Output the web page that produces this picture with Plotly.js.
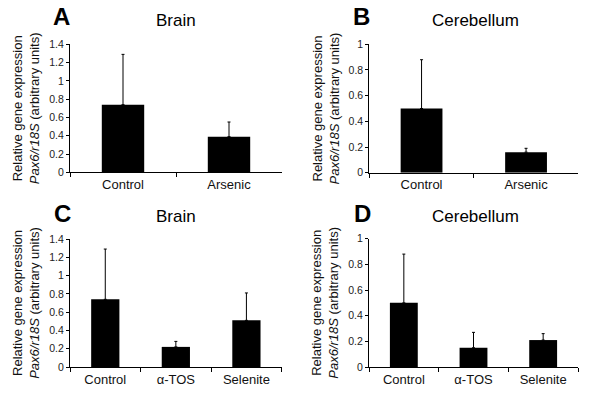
<!DOCTYPE html>
<html>
<head>
<meta charset="utf-8">
<script src="https://cdn.plot.ly/plotly-3.0.1.min.js"></script>
<style>html,body{margin:0;padding:0;background:#fff;}#chart{width:600px;height:394px;}</style>
</head>
<body>
<div id="chart"></div>
<script>
// Data
const catsArsenic = ["Control", "Arsenic"];
const catsTreat = ["Control", "α-TOS", "Selenite"];

const brainArsenicMean = [0.74, 0.39];
const brainArsenicErr = [0.55, 0.16];

const cerebArsenicMean = [0.50, 0.16];
const cerebArsenicErr = [0.38, 0.03];

const brainTreatMean = [0.74, 0.22, 0.51];
const brainTreatErr = [0.55, 0.06, 0.30];

const cerebTreatMean = [0.50, 0.15, 0.21];
const cerebTreatErr = [0.38, 0.12, 0.05];

const panelLetters = ["A", "B", "C", "D"];
const panelTitles = ["Brain", "Cerebellum", "Brain", "Cerebellum"];
const yTitle = "Relative gene expression<br><i>Pax6/r18S</i> (arbitrary units)";

const FONT = "Liberation Sans, Arial, sans-serif";

function barTrace(x, y, err, xa, ya) {
  return {
    type: "bar", x: x, y: y, xaxis: xa, yaxis: ya,
    marker: {color: "#000", line: {width: 0}},
    width: 0.4,
    error_y: {type: "data", array: err, arrayminus: err.map(() => 0), symmetric: false,
              color: "#000", thickness: 1, width: 1.5},
    showlegend: false, hoverinfo: "x+y"
  };
}

const data = [
  barTrace(catsArsenic, brainArsenicMean, brainArsenicErr, "x", "y"),
  barTrace(catsArsenic, cerebArsenicMean, cerebArsenicErr, "x2", "y2"),
  barTrace(catsTreat, brainTreatMean, brainTreatErr, "x3", "y3"),
  barTrace(catsTreat, cerebTreatMean, cerebTreatErr, "x4", "y4")
];

function xax(domain, anchor) {
  return {domain: domain, anchor: anchor, showline: true, linecolor: "#000", linewidth: 1,
    ticks: "outside", tickson: "boundaries", ticklen: 4, tickcolor: "#000",
    showgrid: false, zeroline: false, fixedrange: true,
    tickfont: {family: FONT, size: 13, color: "#111"}};
}
function yax(domain, anchor, max, dtick) {
  return {domain: domain, anchor: anchor, range: [0, max], dtick: dtick,
    showline: true, linecolor: "#000", linewidth: 1, ticks: "outside", ticklen: 3,
    tickcolor: "#000", showgrid: false, zeroline: false, fixedrange: true,
    tickfont: {family: FONT, size: 10.5, color: "#222"},
    title: {text: yTitle, font: {family: FONT, size: 13, color: "#111"}, standoff: 6}};
}

const letterPos = [[61, 17], [361, 17], [62, 214], [362, 214]];
const titlePos = [[176, 20], [475, 20], [176, 216], [475, 216]];
const annotations = [];
for (let i = 0; i < 4; i++) {
  annotations.push({xref: "paper", yref: "paper", x: letterPos[i][0] / 600, y: 1 - letterPos[i][1] / 394,
    text: "<b>" + panelLetters[i] + "</b>", showarrow: false, xanchor: "center", yanchor: "middle",
    font: {family: FONT, size: 24, color: "#000"}});
  annotations.push({xref: "paper", yref: "paper", x: titlePos[i][0] / 600, y: 1 - titlePos[i][1] / 394,
    text: panelTitles[i], showarrow: false, xanchor: "center", yanchor: "middle",
    font: {family: FONT, size: 17, color: "#000"}});
}

const layout = {
  width: 600, height: 394,
  margin: {l: 0, r: 0, t: 0, b: 0},
  paper_bgcolor: "#fff", plot_bgcolor: "#fff",
  bargap: 0.6,
  xaxis: xax([70 / 600, 282 / 600], "y"),
  yaxis: yax([1 - 172.3 / 394, 1 - 44.3 / 394], "x", 1.4, 0.2),
  xaxis2: xax([369.3 / 600, 578.3 / 600], "y2"),
  yaxis2: yax([1 - 172.7 / 394, 1 - 44.3 / 394], "x2", 1, 0.2),
  xaxis3: xax([70 / 600, 281.7 / 600], "y3"),
  yaxis3: yax([1 - 367 / 394, 1 - 239 / 394], "x3", 1.4, 0.2),
  xaxis4: xax([369 / 600, 578 / 600], "y4"),
  yaxis4: yax([1 - 367 / 394, 1 - 238.7 / 394], "x4", 1, 0.2),
  annotations: annotations
};

Plotly.newPlot("chart", data, layout, {displayModeBar: false, staticPlot: true});
</script>
</body>
</html>
